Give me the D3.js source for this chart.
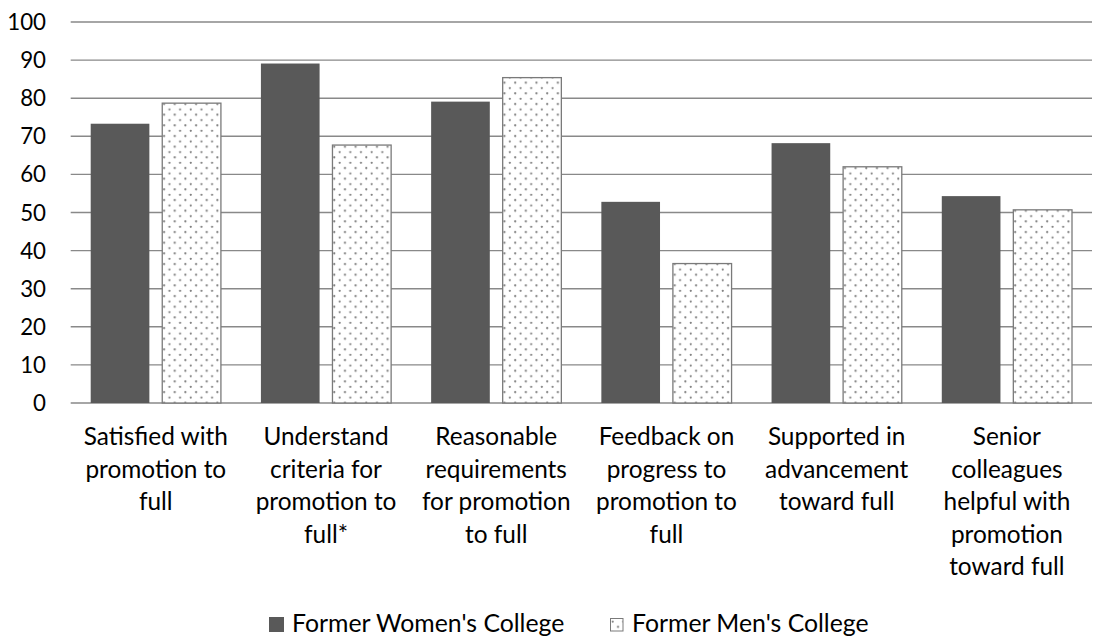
<!DOCTYPE html>
<html><head><meta charset="utf-8">
<script src="https://cdn.jsdelivr.net/npm/d3@7"></script>
<style>html,body{margin:0;padding:0;background:#fff;}svg{display:block;}</style>
</head><body>
<script>
const categories = [
  "Satisfied with\npromotion to\nfull",
  "Understand\ncriteria for\npromotion to\nfull*",
  "Reasonable\nrequirements\nfor promotion\nto full",
  "Feedback on\nprogress to\npromotion to\nfull",
  "Supported in\nadvancement\ntoward full",
  "Senior\ncolleagues\nhelpful with\npromotion\ntoward full"
];
const seriesNames = ["Former Women's College", "Former Men's College"];
const women = [73.3, 89.1, 79.1, 52.8, 68.2, 54.3];
const men = [78.7, 67.7, 85.4, 36.6, 62.0, 50.7];
const yTicks = [0,10,20,30,40,50,60,70,80,90,100];

(function(){
const W = 1102, H = 636;
const FONT = "Lato, 'Open Sans', sans-serif";
const FS_Y = 22.3, FS_X = 24.4, FS_L = 24.8;
const svg = d3.select("body").append("svg").attr("width", W).attr("height", H);

const defs = svg.append("defs");
const pat = defs.append("pattern").attr("id","dots").attr("patternUnits","userSpaceOnUse")
  .attr("width",10.67).attr("height",10.67);
pat.append("rect").attr("width",10.67).attr("height",10.67).attr("fill","#fff");
[[2.7,2.7],[8.0,8.0]].forEach(([cx,cy])=>pat.append("circle").attr("cx",cx).attr("cy",cy).attr("r",1.1).attr("fill","#808080"));

const mL = 70.7, mR = 1092, mT = 22, mB = 403;
const x0 = d3.scaleBand().domain(categories).range([mL, mR]).paddingInner(0).paddingOuter(0);
const x1 = d3.scaleBand().domain([0,1]).range([20, x0.bandwidth()-20]).paddingInner(0.18).paddingOuter(0);
const y = d3.scaleLinear().domain([0,100]).range([mB, mT]);

svg.append("g").selectAll("line").data(yTicks).join("line")
  .attr("x1", mL).attr("x2", mR)
  .attr("y1", d=>y(d)).attr("y2", d=>y(d))
  .attr("stroke", "#898989").attr("stroke-width", 1.4);

svg.append("g").selectAll("text").data(yTicks).join("text")
  .attr("x", 46).attr("y", d=>y(d)).attr("dy","0.36em")
  .attr("text-anchor","end").attr("font-family",FONT).attr("font-size",FS_Y).attr("fill","#000")
  .text(d=>d);

const data = categories.map((c,i)=>({c, vals:[women[i], men[i]]}));
const g = svg.append("g").selectAll("g").data(data).join("g")
  .attr("transform", d=>`translate(${x0(d.c)},0)`);
g.selectAll("rect").data(d=>d.vals.map((v,k)=>({v,k}))).join("rect")
  .attr("x", d=>x1(d.k)).attr("width", x1.bandwidth())
  .attr("y", d=>y(d.v)).attr("height", d=>y(0)-y(d.v))
  .attr("fill", d=>d.k===0 ? "#595959" : "url(#dots)")
  .attr("stroke", d=>d.k===0 ? "none" : "#7a7a7a")
  .attr("stroke-width", 1.3);

const lab = svg.append("g").selectAll("text").data(categories).join("text")
  .attr("x", d=>x0(d)+x0.bandwidth()/2).attr("y", 445)
  .attr("text-anchor","middle").attr("font-family",FONT).attr("font-size",FS_X).attr("fill","#000");
lab.selectAll("tspan").data(d=>d.split("\n")).join("tspan")
  .attr("x", function(){return this.parentNode.getAttribute("x");})
  .attr("dy", (d,i)=> i===0 ? 0 : 32.5)
  .text(d=>d);

const legX = [269, 610];
const leg = svg.append("g").selectAll("g").data(seriesNames).join("g")
  .attr("transform",(d,i)=>`translate(${legX[i]},0)`);
leg.append("rect").attr("x",(d,i)=>i===0?0:0.5).attr("y",(d,i)=>i===0?617:618.5)
  .attr("width",(d,i)=>i===0?15:12.5).attr("height",(d,i)=>i===0?15:12.5)
  .attr("fill",(d,i)=>i===0?"#595959":"url(#dots)")
  .attr("stroke",(d,i)=>i===0?"none":"#7a7a7a").attr("stroke-width",1);
leg.append("text").attr("x",(d,i)=>i===0?23:22).attr("y",632)
  .attr("font-family",FONT).attr("font-size",FS_L).attr("fill","#000").text(d=>d);
})();
</script>
</body></html>
